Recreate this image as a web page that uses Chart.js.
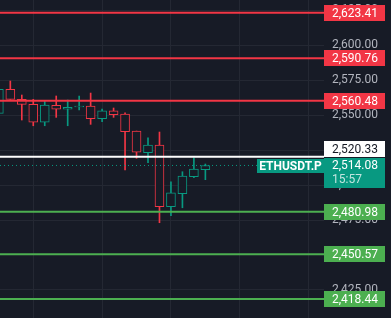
<!DOCTYPE html>
<html>
<head>
<meta charset="utf-8">
<script src="https://cdn.jsdelivr.net/npm/chart.js@4.4.0/dist/chart.umd.min.js"></script>
<style>
  html, body { margin: 0; padding: 0; background: #171b26; }
  #wrap { width: 391px; height: 318px; }
</style>
</head>
<body>
<div id="wrap"><canvas id="myChart" width="391" height="318"></canvas></div>
<script>
// candle index, open, high, low, close
const candleIdx = [0, 1, 2, 3, 4, 5, 6, 7, 8, 9, 10, 11, 12, 13, 14, 15, 16, 17, 18];
const opens  = [2551.4, 2568.6, 2561.4, 2557.8, 2545.0, 2557.1, 2554.3, 2555.9, 2556.6, 2547.5, 2553.1, 2550.9, 2538.7, 2523.2, 2528.7, 2484.5, 2493.9, 2506.0, 2511.0];
const highs  = [2569.5, 2574.5, 2564.5, 2561.4, 2560.0, 2563.8, 2560.9, 2563.8, 2565.9, 2554.5, 2555.2, 2551.8, 2538.7, 2533.9, 2538.0, 2502.4, 2509.6, 2519.6, 2515.1];
const lows   = [2550.0, 2561.4, 2546.6, 2542.5, 2542.5, 2548.5, 2542.5, 2553.8, 2543.5, 2545.4, 2548.5, 2510.8, 2519.2, 2516.0, 2473.1, 2478.1, 2483.8, 2505.3, 2503.9];
const closes = [2568.6, 2561.4, 2557.8, 2545.0, 2557.3, 2554.3, 2555.7, 2556.6, 2547.5, 2553.1, 2550.5, 2538.2, 2523.5, 2528.7, 2484.5, 2494.4, 2506.5, 2511.5, 2514.08];

// horizontal levels
const resistanceLevels = [2623.41, 2590.76, 2560.48];
const pivotLevel = 2520.33;
const supportLevels = [2480.98, 2450.57, 2418.44];
const lastPrice = 2514.08;
const symbolName = "ETHUSDT.P";
const countdown = "15:57";

// y axis ticks
const priceTicks = [2425, 2450, 2475, 2500, 2525, 2550, 2575, 2600, 2625];
// vertical time grid lines, at candle index
const timeGrid = [6, 12, 18, 24];

const BG = "#171b26";
const RED = "#f23645";
const GREEN = "#4caf50";
const TEAL = "#089981";
const GRID = "#242833";
const FONT = "Roboto, 'Liberation Sans', sans-serif";

const xMin = 0.1, xMax = 28.34;

const fmt = (v) => v.toLocaleString("en-US", { minimumFractionDigits: 2, maximumFractionDigits: 2 });
const upColor = (i) => (closes[i] >= opens[i] ? TEAL : RED);

function levelLine(value, color, dash) {
  return {
    type: "line",
    data: [{ x: xMin, y: value }, { x: xMax, y: value }],
    borderColor: color,
    borderWidth: dash ? 1 : 2,
    borderDash: dash || [],
    pointRadius: 0,
    order: 0,
  };
}

const labelPlugin = {
  id: "priceLabels",
  afterDraw(chart) {
    const c = chart.ctx;
    const y = chart.scales.y;
    const x0 = chart.chartArea.right;
    const w = 61;
    c.save();
    c.font = "12px " + FONT;
    c.textBaseline = "middle";

    function box(value, fill, textColor, topOverride) {
      const py = y.getPixelForValue(value);
      const top = topOverride !== undefined ? topOverride : Math.round(py - 8);
      c.fillStyle = fill;
      c.fillRect(x0, top, w, 16);
      c.fillStyle = textColor;
      c.textAlign = "left";
      c.fillText(fmt(value), x0 + 8, top + 8.5);
      return top;
    }

    resistanceLevels.forEach((v) => box(v, RED, "#ffffff"));
    supportLevels.forEach((v) => box(v, GREEN, "#ffffff"));

    // last price box (two lines)
    const lp = y.getPixelForValue(lastPrice);
    const lpTop = Math.round(lp - 7.5);
    c.fillStyle = TEAL;
    c.fillRect(x0, lpTop, w, 30);
    c.fillStyle = "#ffffff";
    c.fillText(fmt(lastPrice), x0 + 8, lpTop + 8);
    c.fillStyle = "rgba(255,255,255,0.75)";
    c.fillText(countdown, x0 + 8, lpTop + 22);

    // symbol tag left of the scale
    c.font = "bold 12px " + FONT;
    const sw = 67;
    c.fillStyle = TEAL;
    c.fillRect(x0 - sw, lpTop + 1, sw, 14);
    c.fillStyle = "#ffffff";
    c.textAlign = "center";
    c.fillText(symbolName, x0 - sw / 2, lpTop + 8.5);

    // pivot box pushed up above last price box
    c.font = "12px " + FONT;
    const pp = y.getPixelForValue(pivotLevel);
    let pTop = Math.round(pp - 8);
    if (pTop + 16 > lpTop - 1) pTop = lpTop - 17;
    box(pivotLevel, "#ffffff", "#131722", pTop);
    c.restore();
  },
};

function myLoadFunction() {
  const ctx = document.getElementById("myChart");

  const bodies = {
    type: "bar",
    data: candleIdx.map((k, i) => ({ x: k, y: [opens[i], closes[i]] })),
    backgroundColor: BG,
    borderColor: candleIdx.map((k, i) => upColor(i)),
    borderWidth: 1,
    borderSkipped: false,
    barThickness: 9,
    grouped: false,
    order: 1,
  };
  const wicks = {
    type: "bar",
    data: candleIdx.map((k, i) => ({ x: k, y: [lows[i], highs[i]] })),
    backgroundColor: candleIdx.map((k, i) => upColor(i)),
    borderWidth: 0,
    barThickness: 1,
    grouped: false,
    order: 2,
  };

  const lines = [];
  resistanceLevels.forEach((v) => lines.push(levelLine(v, RED)));
  lines.push(levelLine(pivotLevel, "#ffffff"));
  supportLevels.forEach((v) => lines.push(levelLine(v, GREEN)));
  lines.push(levelLine(lastPrice, TEAL, [1, 3]));

  new Chart(ctx, {
    type: "bar",
    data: { datasets: [bodies, wicks, ...lines] },
    options: {
      responsive: false,
      animation: false,
      layout: { padding: 0 },
      plugins: { legend: { display: false }, tooltip: { enabled: false } },
      scales: {
        x: {
          type: "linear",
          min: xMin,
          max: xMax,
          offset: false,
          border: { display: false },
          grid: { color: GRID, drawTicks: false },
          ticks: { display: false },
          afterBuildTicks: (s) => { s.ticks = timeGrid.map((v) => ({ value: v })); },
          afterFit: (s) => { s.height = 0; s.paddingLeft = 0; s.paddingRight = 0; },
        },
        y: {
          position: "right",
          min: 2404.9,
          max: 2632.5,
          border: { display: false },
          grid: { color: GRID, drawTicks: false },
          afterBuildTicks: (s) => { s.ticks = priceTicks.map((v) => ({ value: v })); },
          afterFit: (s) => { s.width = 67; s.paddingTop = 0; s.paddingBottom = 0; },
          ticks: {
            padding: 8,
            color: "#b2b5be",
            font: { family: FONT, size: 12 },
            callback: (v) => fmt(v),
          },
        },
      },
    },
    plugins: [labelPlugin],
  });
}

document.addEventListener("DOMContentLoaded", myLoadFunction);
</script>
</body>
</html>
